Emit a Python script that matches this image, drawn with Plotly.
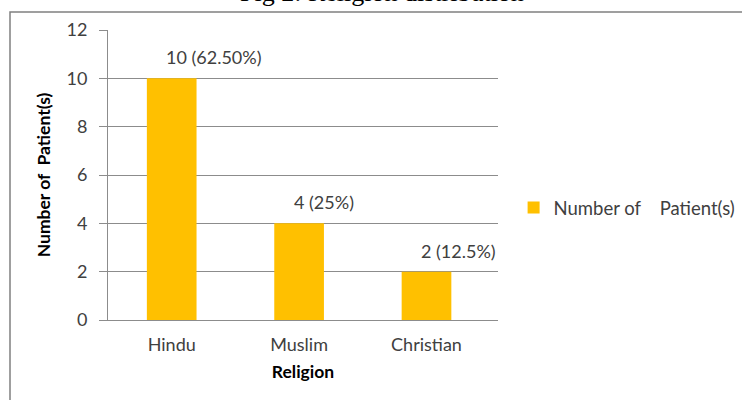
import plotly.graph_objects as go

categories = ["Hindu", "Muslim", "Christian"]
patients = [10, 4, 2]
labels = ["10 (62.50%)", "4 (25%)", "2 (12.5%)"]
label_xshift = [42, 25, 32]
y_ticks = [0, 2, 4, 6, 8, 10, 12]

series_name = "Number of\u00a0\u00a0\u00a0 Patient(s)"
y_title = "Number of\u00a0 Patient(s)"
x_title = "Religion"
chart_title = "Fig 2: Religion distribution"

FONT = "Lato"
GRID = "#8c8c8c"
FS = 18

fig = go.Figure()
fig.add_trace(go.Bar(
    x=categories, y=patients, name=series_name,
    marker=dict(color="#FFC000", line=dict(width=0)),
    showlegend=True,
))

for c, v, t, dx in zip(categories, patients, labels, label_xshift):
    fig.add_annotation(x=c, y=v, text=t, showarrow=False, xref="x", yref="y",
                       yanchor="middle", xshift=dx, yshift=21,
                       font=dict(family=FONT, size=FS, color="#404040"))

fig.add_annotation(x=(382 - 108) / 390, xref="paper", y=(320 - 9) / 290, yref="paper",
                   text=chart_title, showarrow=False, xanchor="center", yanchor="bottom",
                   font=dict(family="Liberation Serif", size=26, color="black"))

fig.update_layout(
    width=742, height=400,
    margin=dict(l=108, r=244, t=30, b=80, autoexpand=False),
    paper_bgcolor="white", plot_bgcolor="white",
    bargap=0.61,
    font=dict(family=FONT, size=FS, color="#404040"),
    legend=dict(x=1.04, y=0.386, xanchor="left", yanchor="middle",
                font=dict(family=FONT, size=18.5, color="#404040"),
                bgcolor="rgba(0,0,0,0)"),
    xaxis=dict(
        showgrid=False, showline=True, linecolor=GRID, linewidth=1,
        ticks="", ticklabelstandoff=8,
        tickfont=dict(family=FONT, size=FS, color="#404040"),
        title=dict(text=x_title, standoff=12,
                   font=dict(family=FONT, size=17.5, color="black", weight="bold")),
    ),
    yaxis=dict(
        range=[0, 12], tickvals=y_ticks, showgrid=True, gridcolor=GRID, gridwidth=1,
        showline=True, linecolor=GRID, linewidth=1, zeroline=False,
        ticks="outside", ticklen=8, tickcolor=GRID, ticklabelstandoff=8,
        tickfont=dict(family=FONT, size=FS, color="#404040"),
        title=dict(text=y_title, standoff=11,
                   font=dict(family=FONT, size=17.5, color="black", weight="bold")),
    ),
)

# outer border
fig.add_shape(type="rect", xref="paper", yref="paper",
              x0=(10 - 108) / 390, x1=(760 - 108) / 390,
              y0=(320 - 420) / 290, y1=(320 - 12) / 290,
              line=dict(color="#808080", width=1.5), fillcolor="rgba(0,0,0,0)", layer="below")

fig.write_html("out.html", config={"displayModeBar": False},
               post_script="document.body.style.margin='0';")
